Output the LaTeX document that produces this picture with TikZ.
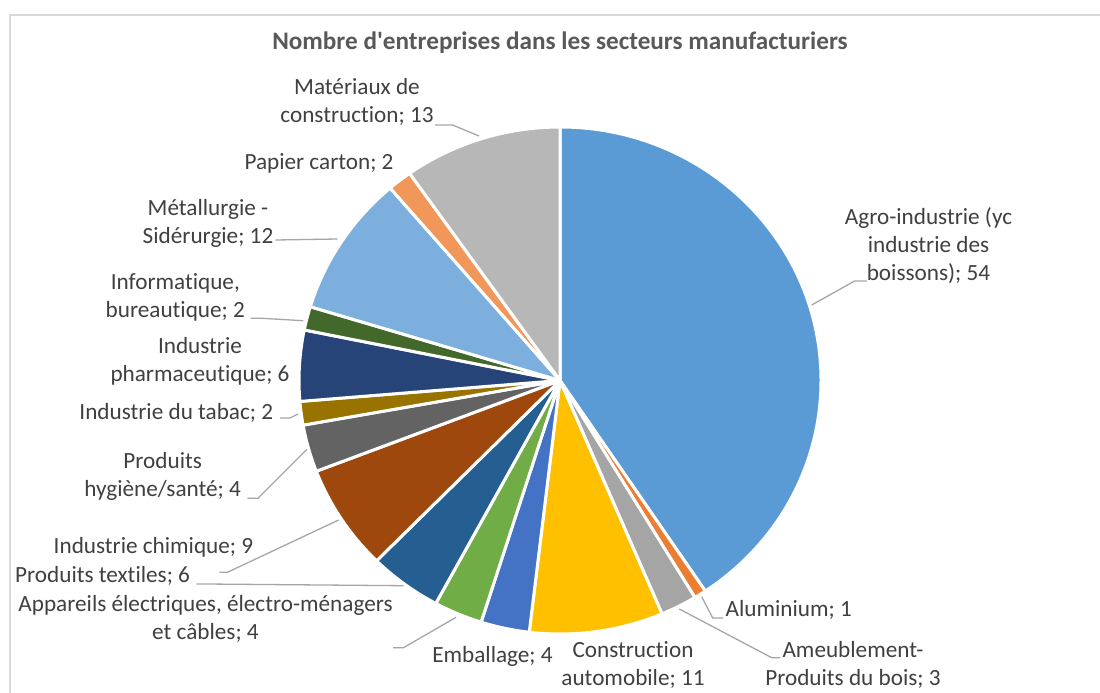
\documentclass[tikz,border=0pt]{standalone}
\usepackage{fontspec}
\setmainfont{Carlito}[Ligatures={TeXOff,NoCommon}]
\definecolor{cAgro}{HTML}{5B9BD5}
\definecolor{cAlum}{HTML}{ED7D31}
\definecolor{cAmeub}{HTML}{A5A5A5}
\definecolor{cConstr}{HTML}{FFC000}
\definecolor{cEmball}{HTML}{4472C4}
\definecolor{cAppar}{HTML}{70AD47}
\definecolor{cTextile}{HTML}{255E91}
\definecolor{cChim}{HTML}{9E480E}
\definecolor{cHyg}{HTML}{636363}
\definecolor{cTabac}{HTML}{997300}
\definecolor{cPharma}{HTML}{264478}
\definecolor{cInfo}{HTML}{43682B}
\definecolor{cMetal}{HTML}{7CAFDD}
\definecolor{cPapier}{HTML}{F1975A}
\definecolor{cMater}{HTML}{B7B7B7}
\definecolor{labelgray}{HTML}{404040}
\definecolor{titlegray}{HTML}{595959}
\definecolor{leadergray}{HTML}{A6A6A6}
\definecolor{framegray}{HTML}{D9D9D9}
\newcommand\pieslice[3]{%
  \filldraw[slicestyle, fill=#3] (C) -- ++({-90+2.7067669*#1}:261 and 253.5)
    arc[start angle={-90+2.7067669*#1}, end angle={-90+2.7067669*#2}, x radius=261, y radius=253.5] -- cycle;}
\begin{document}
\begin{tikzpicture}[x=1pt,y=-1pt,
  slicestyle/.style={draw=white, line width=3pt, line join=round},
  lbl/.style={inner sep=0pt, anchor=base, align=center, text=labelgray, font=\fontsize{23.2}{28}\selectfont},
  ttl/.style={inner sep=0pt, anchor=base, text=titlegray, font=\bfseries\fontsize{25.2}{30}\selectfont},
  leader/.style={draw=leadergray, line width=1.3pt},
  framestyle/.style={draw=framegray, line width=1.5pt}]
\useasboundingbox (0,0) rectangle (1100,693);
\fill[white] (0,0) rectangle (1100,693);
\draw[framestyle] (10,693) -- (10,15) -- (1100,15);
\coordinate (C) at (560,380.5);
% slices
\pieslice{0}{54}{cAgro}
\pieslice{54}{55}{cAlum}
\pieslice{55}{58}{cAmeub}
\pieslice{58}{69}{cConstr}
\pieslice{69}{73}{cEmball}
\pieslice{73}{77}{cAppar}
\pieslice{77}{83}{cTextile}
\pieslice{83}{92}{cChim}
\pieslice{92}{96}{cHyg}
\pieslice{96}{98}{cTabac}
\pieslice{98}{104}{cPharma}
\pieslice{104}{106}{cInfo}
\pieslice{106}{118}{cMetal}
\pieslice{118}{120}{cPapier}
\pieslice{120}{133}{cMater}
% title
\node[ttl] (title) at (560,50) {Nombre d'entreprises dans les secteurs manufacturiers};
% labels (anchor = baseline of last line)
\node[lbl] (mat) at (357,122) {Matériaux de\\construction; 13};
\node[lbl] (pap) at (319,169) {Papier carton; 2};
\node[lbl] (met) at (208,243) {Métallurgie -\\Sidérurgie; 12};
\node[lbl] (agro) at (928.5,280) {Agro-industrie (yc\\industrie des\\boissons); 54};
\node[lbl] (info) at (175.3,317.7) {Informatique,\\bureautique; 2};
\node[lbl] (pharma) at (200,381) {Industrie\\pharmaceutique; 6};
\node[lbl] (tabac) at (176.3,419.3) {Industrie du tabac; 2};
\node[lbl] (hyg) at (162.7,496) {Produits\\hygiène/santé; 4};
\node[lbl] (chim) at (153.5,553.7) {Industrie chimique; 9};
\node[lbl] (text) at (102.6,582.7) {Produits textiles; 6};
\node[lbl] (appar) at (205.5,639) {Appareils électriques, électro-ménagers\\et câbles; 4};
\node[lbl] (emb) at (492.5,662.7) {Emballage; 4};
\node[lbl] (constr) at (633,685) {Construction\\automobile; 11};
\node[lbl] (alum) at (788.7,616) {Aluminium; 1};
\node[lbl] (ameub) at (853,685) {Ameublement-\\Produits du bois; 3};
% leader lines
\coordinate (matA) at (435,125); \coordinate (matB) at (452.6,125); \coordinate (matC) at (479,136);
\draw[leader] (matA) -- (matB) -- (matC);
\coordinate (agroA) at (866.8,281); \coordinate (agroB) at (854.6,281); \coordinate (agroC) at (811.7,305);
\draw[leader] (agroA) -- (agroB) -- (agroC);
\coordinate (metA) at (275.4,240); \coordinate (metC) at (337.5,239);
\draw[leader] (metA) -- (metC);
\coordinate (infoA) at (250.7,318.3); \coordinate (infoB) at (262,318.3); \coordinate (infoC) at (303.3,320.7);
\draw[leader] (infoA) -- (infoB) -- (infoC);
\coordinate (tabA) at (280,418); \coordinate (tabB) at (290,418); \coordinate (tabC) at (298,414);
\draw[leader] (tabA) -- (tabB) -- (tabC);
\coordinate (hygA) at (247.4,498.3); \coordinate (hygB) at (257.9,498.3); \coordinate (hygC) at (307,449.3);
\draw[leader] (hygA) -- (hygB) -- (hygC);
\coordinate (chimA) at (219.3,572.3); \coordinate (chimB) at (227.4,572.3); \coordinate (chimC) at (338.6,520);
\draw[leader] (chimA) -- (chimB) -- (chimC);
\coordinate (textA) at (196.5,584); \coordinate (textB) at (206,584); \coordinate (textC) at (403.5,585.7);
\draw[leader] (textA) -- (textB) -- (textC);
\coordinate (appA) at (393,647.7); \coordinate (appB) at (403.5,647.7); \coordinate (appC) at (456,617.3);
\draw[leader] (appA) -- (appB) -- (appC);
\coordinate (alumA) at (723,618); \coordinate (alumB) at (712.7,618); \coordinate (alumC) at (701.7,596.7);
\draw[leader] (alumA) -- (alumB) -- (alumC);
\coordinate (ameA) at (780,657.7); \coordinate (ameB) at (771.7,657.7); \coordinate (ameC) at (679.3,609);
\draw[leader] (ameA) -- (ameB) -- (ameC);
\end{tikzpicture}
\end{document}
